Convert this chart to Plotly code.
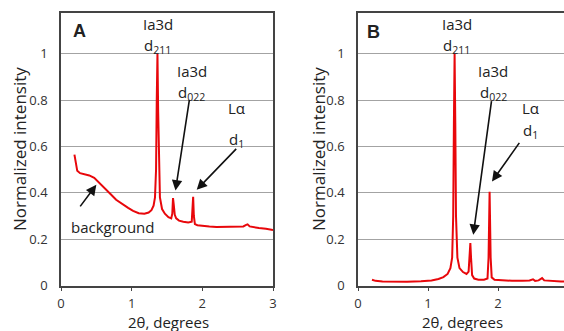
import plotly.graph_objects as go

# ---- data ----
xa = [0.19, 0.21, 0.23, 0.27, 0.33, 0.40, 0.47, 0.54, 0.62, 0.70, 0.78, 0.87, 0.95, 1.02,
      1.10, 1.18, 1.24, 1.28, 1.31, 1.33, 1.345, 1.355, 1.365, 1.375, 1.385, 1.40, 1.43,
      1.47, 1.52, 1.56, 1.575, 1.585, 1.595, 1.61, 1.63, 1.67, 1.73, 1.80, 1.85, 1.86,
      1.87, 1.88, 1.895, 1.93, 2.0, 2.1, 2.2, 2.3, 2.4, 2.5, 2.58, 2.62, 2.64, 2.67, 2.72,
      2.8, 2.9, 3.0]
ya = [0.565, 0.53, 0.495, 0.485, 0.48, 0.475, 0.465, 0.445, 0.42, 0.395, 0.37, 0.35, 0.335,
      0.322, 0.312, 0.31, 0.315, 0.325, 0.345, 0.38, 0.5, 0.8, 1.0, 0.75, 0.5, 0.38, 0.33,
      0.31, 0.295, 0.29, 0.31, 0.377, 0.35, 0.305, 0.29, 0.28, 0.275, 0.272, 0.275, 0.33,
      0.383, 0.30, 0.265, 0.26, 0.257, 0.255, 0.253, 0.253, 0.252, 0.255, 0.255, 0.262,
      0.264, 0.255, 0.252, 0.248, 0.245, 0.24]

xb = [0.2, 0.25, 0.35, 0.5, 0.7, 0.9, 1.05, 1.15, 1.22, 1.28, 1.32, 1.345, 1.36, 1.37, 1.38,
      1.39, 1.40, 1.42, 1.45, 1.5, 1.55, 1.58, 1.595, 1.605, 1.615, 1.63, 1.66, 1.72, 1.8,
      1.85, 1.865, 1.88, 1.895, 1.91, 1.95, 2.05, 2.2, 2.35, 2.45, 2.5, 2.53, 2.58, 2.63,
      2.66, 2.72, 2.8, 2.9, 2.96]
yb = [0.025, 0.02, 0.017, 0.016, 0.016, 0.018, 0.022, 0.028, 0.036, 0.05, 0.075, 0.12, 0.3,
      0.7, 1.0, 0.7, 0.3, 0.12, 0.075, 0.058, 0.05, 0.06, 0.14, 0.183, 0.12, 0.045, 0.03,
      0.025, 0.025, 0.03, 0.12, 0.405, 0.12, 0.035, 0.025, 0.022, 0.02, 0.02, 0.022, 0.027,
      0.02, 0.022, 0.032, 0.022, 0.02, 0.018, 0.017, 0.017]

x_ticks = [0, 1, 2, 3]
y_ticks = [0, 0.2, 0.4, 0.6, 0.8, 1]
y_ticktext = ["0", "0.2", "0.4", "0.6", "0.8", "1"]

W, H = 564, 331
FONT = "Open Sans"
RED = "#e8070b"
AXC = "#444444"

fig = go.Figure()
fig.add_trace(go.Scatter(x=xa, y=ya, mode="lines", line=dict(color=RED, width=2),
                         xaxis="x", yaxis="y", showlegend=False, hoverinfo="skip"))
fig.add_trace(go.Scatter(x=xb, y=yb, mode="lines", line=dict(color=RED, width=2),
                         xaxis="x2", yaxis="y2", showlegend=False, hoverinfo="skip"))

ydom = [(H - 285.5) / H, (H - 13.3) / H]
common_x = dict(tickvals=x_ticks, ticks="outside", ticklen=4, tickwidth=1.2, tickcolor=AXC,
                showgrid=False, zeroline=False, showline=True, linecolor=AXC, linewidth=1.5,
                mirror=True, tickfont=dict(family=FONT, size=13, color="#333"),
                ticklabelstandoff=1, fixedrange=True)
common_y = dict(range=[0, 1.175], tickvals=y_ticks, ticktext=y_ticktext, ticks="",
                showgrid=True, gridcolor="#a3a3a3", gridwidth=1.2, zeroline=False,
                showline=True, linecolor=AXC, linewidth=1.5, domain=ydom,
                tickfont=dict(family=FONT, size=13, color="#333"), ticklabelstandoff=9,
                fixedrange=True)

fig.update_layout(
    width=W, height=H, margin=dict(l=0, r=0, t=0, b=0, autoexpand=False),
    paper_bgcolor="white", plot_bgcolor="white",
    xaxis=dict(domain=[61 / W, 273 / W], range=[0, 3], anchor="y", **common_x),
    yaxis=dict(anchor="x", mirror=True, **common_y),
    xaxis2=dict(domain=[358 / W, 1.0], range=[0, (W - 358) / 70.0], anchor="y2", **common_x),
    yaxis2=dict(anchor="x2", mirror=False, **common_y),
)

ann = []
TS = 15
tf = dict(family=FONT, size=TS, color="#222")

def txt(x, y, s, xr, yr, size=TS, bold=False):
    f = dict(tf)
    f["size"] = size
    if bold:
        f["family"] = "Liberation Sans"
        f["weight"] = "bold"
    ann.append(dict(x=x, y=y, xref=xr, yref=yr, text=s, showarrow=False, font=f,
                    xanchor="center", yanchor="middle"))

def arrow(x0, y0, x1, y1, xr, yr):
    ann.append(dict(x=x1, y=y1, ax=x0, ay=y0, xref=xr, yref=yr, axref=xr, ayref=yr,
                    text="", showarrow=True, arrowhead=2, arrowsize=1.3, arrowwidth=1.6,
                    arrowcolor="#111"))

# Panel A
txt(0.256, 1.098, "<b>A</b>", "x", "y", size=18, bold=True)
txt(1.366, 1.130, "Ia3d", "x", "y")
txt(1.366, 1.036, "d<sub>211</sub>", "x", "y")
txt(1.85, 0.926, "Ia3d", "x", "y")
txt(1.85, 0.832, "d<sub>022</sub>", "x", "y")
txt(2.49, 0.765, "Lα", "x", "y")
txt(2.49, 0.630, "d<sub>1</sub>", "x", "y")
txt(0.725, 0.253, "background", "x", "y")
arrow(1.82, 0.808, 1.62, 0.41, "x", "y")
arrow(2.50, 0.596, 1.92, 0.413, "x", "y")
arrow(0.256, 0.335, 0.50, 0.435, "x", "y")

# Panel B
txt(0.22, 1.096, "<b>B</b>", "x2", "y2", size=18, bold=True)
txt(1.414, 1.130, "Ia3d", "x2", "y2")
txt(1.414, 1.036, "d<sub>211</sub>", "x2", "y2")
txt(1.93, 0.926, "Ia3d", "x2", "y2")
txt(1.93, 0.832, "d<sub>022</sub>", "x2", "y2")
txt(2.46, 0.765, "Lα", "x2", "y2")
txt(2.46, 0.668, "d<sub>1</sub>", "x2", "y2")
arrow(1.91, 0.802, 1.647, 0.219, "x2", "y2")
arrow(2.32, 0.622, 1.914, 0.449, "x2", "y2")

# Axis titles
for cx in (168, 462):
    ann.append(dict(x=cx / W, y=(H - 322) / H, xref="paper", yref="paper",
                    text="2θ, degrees", showarrow=False,
                    font=dict(family=FONT, size=15, color="#222"),
                    xanchor="center", yanchor="middle"))
for cx in (19, 318):
    ann.append(dict(x=cx / W, y=(H - 149) / H, xref="paper", yref="paper",
                    text="Normalized intensity", showarrow=False, textangle=-90,
                    font=dict(family=FONT, size=17, color="#222"),
                    xanchor="center", yanchor="middle"))

fig.update_layout(annotations=ann)
fig.write_html("out.html", config={"displayModeBar": False},
               post_script="document.body.style.margin='0';")
